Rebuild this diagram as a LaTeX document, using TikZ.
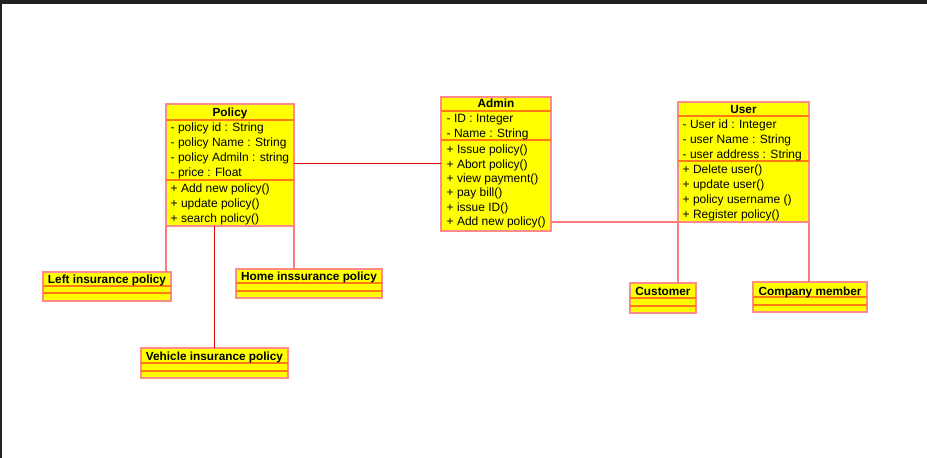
\documentclass[tikz,border=0pt]{standalone}
\usepackage{fontspec}
\setmainfont{Liberation Sans}
\definecolor{boxfill}{HTML}{FFFF00}
\definecolor{boxborder}{HTML}{FF8A8A}
\definecolor{sepcol}{HTML}{FF7A10}
\definecolor{redline}{HTML}{E00000}
\definecolor{pinkline}{HTML}{FF7A7A}
\definecolor{framecol}{HTML}{222222}
\begin{document}
\begin{tikzpicture}[x=1pt,y=-1pt,
  cbox/.style={draw=boxborder, fill=boxfill, line width=2pt, inner sep=0pt, outer sep=0pt, anchor=north west},
  sepline/.style={draw=sepcol, line width=2pt},
  connred/.style={draw=redline, line width=1pt},
  connpink/.style={draw=pinkline, line width=2pt},
  txt/.style={anchor=base west, inner sep=0pt, font=\fontsize{12}{14}\selectfont},
  ttl/.style={anchor=base, inner sep=0pt, font=\bfseries\fontsize{11.8}{14}\selectfont}]
\useasboundingbox (0,0) rectangle (927,458);
\fill[white] (0,0) rectangle (927,458);
\fill[framecol] (0,0) rectangle (927,4);
\fill[framecol] (0,0) rectangle (2,458);

% ---------- boxes ----------
\node[cbox, minimum width=128pt, minimum height=122pt] (policy) at (166,104) {};
\node[cbox, minimum width=110pt, minimum height=134pt] (admin) at (441,97) {};
\node[cbox, minimum width=131pt, minimum height=120pt] (user) at (678,102) {};
\node[cbox, minimum width=128pt, minimum height=29pt] (left) at (43,272) {};
\node[cbox, minimum width=146pt, minimum height=29pt] (home) at (236,269) {};
\node[cbox, minimum width=147pt, minimum height=30pt] (vehicle) at (141,348) {};
\node[cbox, minimum width=66pt, minimum height=30pt] (customer) at (630,283) {};
\node[cbox, minimum width=114pt, minimum height=30pt] (company) at (753,282) {};

% ---------- connectors ----------
\draw[connred] (policy.east |- 0,163.5) -- (admin.west |- 0,163.5);
\draw[connpink] (admin.east |- user.south west) -- (user.south west);
\draw[connpink] (user.south west) -- (customer.north -| user.south west);
\draw[connpink] (user.south east) -- (company.north -| user.south east);
\draw[connpink] (policy.south west) -- (left.north -| policy.south west);
\draw[connpink] (policy.south east) -- (home.north -| policy.south east);
\draw[connred] (vehicle.north |- policy.south) -- (vehicle.north);

% ---------- Policy contents ----------
\draw[sepline] (policy.west |- 0,120) -- (policy.east |- 0,120);
\draw[sepline] (policy.west |- 0,180) -- (policy.east |- 0,180);
\node[ttl] (policyT) at (policy.north |- 0,116.7) {Policy};
\foreach \t [count=\i] in {- policy id : String, - policy Name : String, - policy Admiln : string, - price : Float}
  \node[txt] (pa\i) at (170.5,{131.7+15*(\i-1)}) {\t};
\foreach \t [count=\i] in {+ Add new policy(), + update policy(), + search policy()}
  \node[txt] (pm\i) at (170.5,{192.3+15*(\i-1)}) {\t};

% ---------- Admin contents ----------
\draw[sepline] (admin.west |- 0,111) -- (admin.east |- 0,111);
\draw[sepline] (admin.west |- 0,140) -- (admin.east |- 0,140);
\node[ttl] (adminT) at (admin.north |- 0,107.7) {Admin};
\foreach \t [count=\i] in {- ID : Integer, - Name : String}
  \node[txt] (aa\i) at (446.5,{122.2+15*(\i-1)}) {\t};
\foreach \t [count=\i] in {+ Issue policy(), + Abort policy(), + view payment(), + pay bill(), + issue ID(), + Add new policy()}
  \node[txt] (am\i) at (446.5,{153.6+14.4*(\i-1)}) {\t};

% ---------- User contents ----------
\draw[sepline] (user.west |- 0,116) -- (user.east |- 0,116);
\draw[sepline] (user.west |- 0,161) -- (user.east |- 0,161);
\node[ttl] (userT) at (user.north |- 0,113.7) {User};
\foreach \t [count=\i] in {- User id : Integer, - user Name : String, - user address : String}
  \node[txt] (ua\i) at (682.5,{128.3+15*(\i-1)}) {\t};
\foreach \t [count=\i] in {+ Delete user(), + update user(), + policy username (), + Register policy()}
  \node[txt] (um\i) at (682.5,{173+15*(\i-1)}) {\t};

% ---------- small class contents ----------
\draw[sepline] (left.west |- 0,286) -- (left.east |- 0,286);
\draw[sepline] (left.west |- 0,293) -- (left.east |- 0,293);
\node[ttl] (leftT) at (left.north |- 0,283.4) {Left insurance policy};

\draw[sepline] (home.west |- 0,283) -- (home.east |- 0,283);
\draw[sepline] (home.west |- 0,291) -- (home.east |- 0,291);
\node[ttl] (homeT) at (home.north |- 0,280.8) {Home inssurance policy};

\draw[sepline] (vehicle.west |- 0,363) -- (vehicle.east |- 0,363);
\draw[sepline] (vehicle.west |- 0,371) -- (vehicle.east |- 0,371);
\node[ttl] (vehicleT) at (vehicle.north |- 0,360) {Vehicle insurance policy};

\draw[sepline] (customer.west |- 0,298) -- (customer.east |- 0,298);
\draw[sepline] (customer.west |- 0,306) -- (customer.east |- 0,306);
\node[ttl] (customerT) at (customer.north |- 0,295.5) {Customer};

\draw[sepline] (company.west |- 0,297) -- (company.east |- 0,297);
\draw[sepline] (company.west |- 0,305) -- (company.east |- 0,305);
\node[ttl] (companyT) at (company.north |- 0,295) {Company member};
\end{tikzpicture}
\end{document}
